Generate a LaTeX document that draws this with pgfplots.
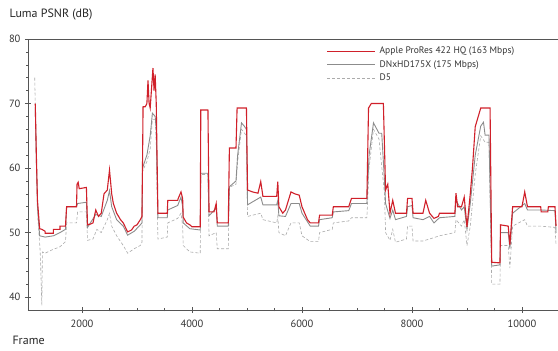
\documentclass[border=0pt]{standalone}
\usepackage{fontspec}
\setmainfont{PT Sans}
\usepackage{pgfplots}
\usepackage{pgfplotstable}
\pgfplotsset{compat=1.18}
\definecolor{prored}{HTML}{D0202A}
\definecolor{dnxgray}{HTML}{8C8C8C}
\definecolor{dfive}{HTML}{ABABAB}
\definecolor{axgray}{HTML}{555555}

\pgfplotstableread{
x y
1150 70
1170 62
1190 55
1230 50.6
1270 50.5
1330 50.2
1330 49.9
1480 49.9
1480 50.5
1600 50.5
1600 51
1700 51
1720 54
1900 54
1910 57.5
1930 57.8
1950 56.8
2080 57
2100 51.2
2150 51.3
2200 51.5
2250 53.5
2300 52.5
2350 53
2400 56
2460 56.6
2500 59.7
2540 56
2570 54.5
2630 53
2700 52
2750 51.5
2830 50.1
2900 50.4
2950 51
3000 51.2
3060 52
3090 52.5
3100 60.2
3110 69.5
3150 69.5
3180 70
3200 73.6
3220 70
3240 69.3
3270 73
3290 75.5
3310 72
3330 74.5
3350 70
3380 53
3550 53
3560 55
3740 55
3750 55.3
3800 56.3
3830 55.3
3840 52.4
3900 51.5
3960 51.2
4000 50.9
4150 50.9
4160 69
4290 69
4310 53.2
4400 53.2
4440 54.5
4460 51.5
4660 51.5
4680 63.1
4800 63.1
4820 69.3
4990 69.3
5010 56.6
5100 56.3
5200 56.1
5250 57.9
5290 55.6
5540 55.6
5560 57.9
5580 54
5650 53
5700 53.5
5800 56.3
5870 56
5950 55.8
6000 54
6100 52
6150 51.5
6300 51.5
6320 52.7
6550 52.7
6570 54
6850 54
6900 55.3
7180 55.3
7210 69.3
7260 70
7480 70
7520 56.6
7560 57.5
7600 53
7650 55
7700 53
7900 53
7920 55.3
8000 55.3
8020 53
8200 53
8250 55
8320 53
8400 52.2
8480 52.5
8500 53
8780 53
8800 56.1
8830 54
8900 54
8950 55.5
9000 50.9
9060 56
9100 60
9150 66.4
9250 69.3
9420 69.3
9450 45.4
9600 45.3
9610 51.2
9750 51
9780 48.1
9830 54
10000 54
10050 56.3
10100 54
10340 54
10350 53.2
10470 53.2
10480 54
10600 54
10620 51
}\prores

\pgfplotstableread{
x y
1150 69.5
1170 61
1190 54
1230 49.5
1330 49.3
1480 49.5
1600 50
1700 50.5
1720 54
1900 54
1920 54.5
2080 54.7
2100 50.8
2250 52.8
2350 52.5
2460 55
2500 56.5
2540 54
2630 52
2750 51
2830 49.6
2950 50.2
3060 51.2
3090 51.5
3100 60
3180 62
3240 65
3280 68.5
3330 68
3350 66
3380 52.3
3550 52.3
3560 53.5
3740 54.2
3800 55.5
3830 54
3840 51.5
3960 50.6
4150 50.4
4160 59.2
4290 59.2
4310 52.6
4440 53.8
4460 51
4660 51
4680 57.1
4800 58
4830 62
4900 67
4950 66.5
4990 66
5010 54.3
5250 55.5
5290 54.3
5540 54.3
5560 55
5580 52.6
5700 52.5
5800 54.5
5950 54.5
6000 53
6150 51
6300 51
6320 52
6550 52.3
6570 53.2
6850 53.4
6900 54.5
7180 54.5
7220 62
7300 67
7350 66.2
7400 65.4
7450 65.4
7500 58
7520 54.5
7600 52.2
7650 53.5
7700 52
7900 52.5
7920 54
8000 54.2
8020 52.3
8200 52
8320 52.5
8400 51.5
8500 52.3
8780 52.5
8800 55
8900 53.5
8950 54
9000 50.5
9060 54.5
9150 62
9250 66.5
9300 67.1
9330 65.1
9400 65.1
9450 44.8
9600 45
9610 50
9750 50
9780 47.5
9830 53
10050 54.5
10100 53.5
10340 53.5
10600 53.4
10620 50
}\dnxhd

\pgfplotstableread{
x y
1140 74
1170 62
1200 52
1240 47
1270 38.7
1280 47
1330 46.8
1450 47.3
1600 47.8
1700 48.6
1720 51.5
1900 51.5
1920 53.2
2080 53.2
2100 48.8
2200 49
2270 50.5
2350 50
2460 52
2500 53
2540 51
2630 49.5
2750 48
2830 46.8
2950 47.5
3060 48
3090 48.5
3100 59.5
3180 61
3240 63
3280 67.5
3330 67.5
3350 64
3380 49
3550 49.3
3560 51.5
3740 52.2
3800 53
3830 51
3840 48
3960 47
4150 46.8
4160 59
4290 59
4310 49.5
4440 50
4460 47.5
4660 47.5
4680 57
4800 57.5
4830 61
4900 66
4990 65
5010 52.5
5250 53
5290 52
5540 51.5
5560 52.5
5580 50
5700 49.5
5800 51.5
5950 51.5
6000 49.5
6150 48.6
6300 48.6
6320 50
6550 50.5
6570 51.5
6850 51.8
6900 52.3
7180 52.3
7220 60
7300 66
7400 64.5
7500 56
7520 50
7600 48.8
7650 50.5
7700 48.5
7900 49
7920 51
8000 51
8020 48.7
8200 48.7
8320 49
8500 49.5
8780 50
8800 52
8900 51
8950 52
9000 48
9060 51
9150 59
9250 65
9330 64
9400 64
9450 42
9600 42
9610 48
9750 48
9780 44.5
9830 51
10050 52
10100 51
10340 51
10600 50.8
10620 48
}\dfivetab

\begin{document}
\begin{tikzpicture}
\path[use as bounding box] (-28pt,-41pt) rectangle (530pt,310pt);
\begin{axis}[
  scale only axis,
  width=530pt, height=271pt,
  xmin=1018, xmax=10655,
  ymin=38, ymax=80,
  axis x line*=bottom,
  axis y line*=left,
  axis line style={axgray, line width=0.7pt, -},
  xtick={2000,4000,6000,8000,10000},
  scaled x ticks=false,
  minor x tick num=3,
  ytick={40,50,60,70,80},
  minor y tick num=4,
  tick align=center,
  major tick length=6pt,
  minor tick length=3pt,
  tick style={axgray, line width=0.6pt},
  /pgf/number format/assume math mode=true,
  /pgf/number format/1000 sep={},
  ticklabel style={font=\fontsize{10.5}{12}\selectfont, text=black!80},
  xticklabel style={yshift=-3pt},
  yticklabel style={xshift=-1pt},
  clip=false,
  reverse legend,
  legend style={at={(0.563,0.978)}, anchor=north west, draw=none, fill=none,
    font=\fontsize{9.5}{11}\selectfont, text=black!80, row sep=1.2pt,
    inner sep=0pt, nodes={inner xsep=4pt}},
  legend cell align=left,
  legend image code/.code={\draw[#1] (0pt,0pt) -- (48pt,0pt);},
]
\addplot[dfive, densely dashed, line width=0.6pt] table[x=x,y=y] {\dfivetab};
\addlegendentry{D5}
\addplot[dnxgray, line width=0.9pt] table[x=x,y=y] {\dnxhd};
\addlegendentry{DNxHD175X (175 Mbps)}
\addplot[prored, line width=1.1pt] table[x=x,y=y] {\prores};
\addlegendentry{Apple ProRes 422 HQ (163 Mbps)}
\draw[axgray, line width=0.7pt] (rel axis cs:0,1) -- (rel axis cs:1,1);
\node[anchor=west, font=\fontsize{12}{14}\selectfont, text=black!85] at ([xshift=-22pt, yshift=24pt]rel axis cs:0,1) {Luma PSNR (dB)};
\node[anchor=west, font=\fontsize{12}{14}\selectfont, text=black!85] at ([xshift=-19pt, yshift=-30pt]rel axis cs:0,0) {Frame};
\end{axis}
\end{tikzpicture}
\end{document}
